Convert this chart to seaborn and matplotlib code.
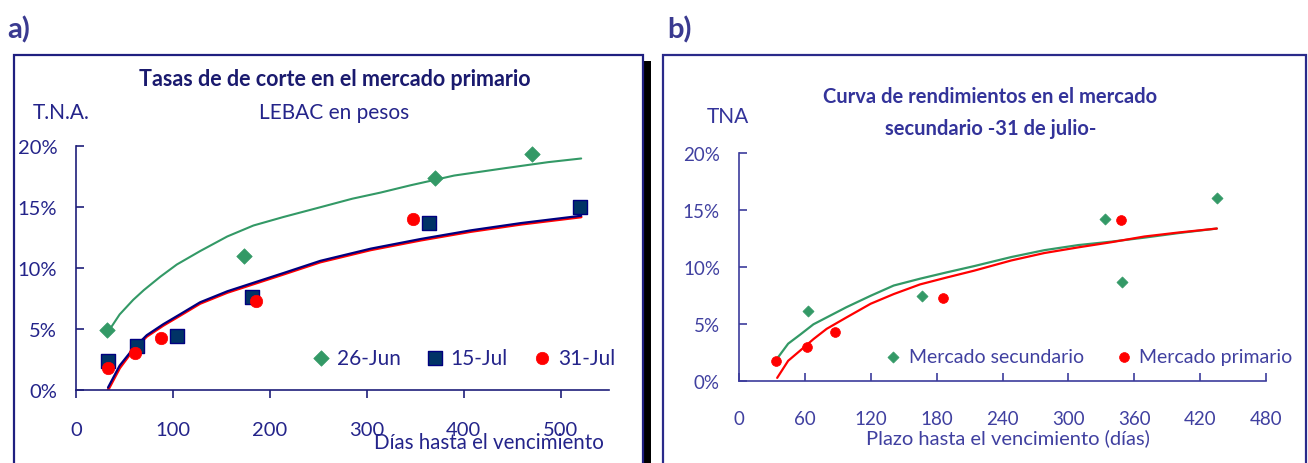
import matplotlib
matplotlib.use('Agg')
import matplotlib.pyplot as plt
import matplotlib.patches as mpatches
from matplotlib.ticker import FuncFormatter, MultipleLocator
import seaborn as sns

# ---- panel a: LEBAC en pesos, cut-off rates in the primary market ----
jun26_days = [32, 173, 370, 470]
jun26_rate = [4.9, 11.0, 17.4, 19.4]
jul15_days = [33, 63, 104, 182, 364, 520]
jul15_rate = [2.4, 3.6, 4.4, 7.6, 13.7, 15.0]
jul31_days = [33, 61, 88, 186, 348]
jul31_rate = [1.8, 3.0, 4.3, 7.3, 14.0]

# fitted curves
jun26_curve_days = [35, 45, 59, 70, 87, 104, 128, 156, 183, 214, 252, 285, 314, 345, 390, 442, 487, 521]
jun26_curve_rate = [5.0, 6.2, 7.4, 8.2, 9.3, 10.3, 11.4, 12.6, 13.5, 14.2, 15.0, 15.7, 16.2, 16.8, 17.6, 18.2, 18.7, 19.0]
jul_curve_days = [33, 45, 59, 73, 90, 107, 128, 156, 183, 214, 252, 304, 356, 407, 459, 521]
jul15_curve_rate = [0.2, 2.0, 3.4, 4.5, 5.4, 6.2, 7.2, 8.1, 8.8, 9.6, 10.6, 11.6, 12.4, 13.1, 13.7, 14.3]
jul31_curve_rate = [0.0, 1.8, 3.3, 4.4, 5.3, 6.1, 7.1, 8.0, 8.7, 9.5, 10.5, 11.5, 12.3, 13.0, 13.6, 14.2]

# ---- panel b: yield curve in the secondary market, 31 July ----
sec_days = [63, 167, 333, 349, 435]
sec_rate = [6.2, 7.45, 14.2, 8.7, 16.05]
pri_days = [34, 62, 88, 186, 348]
pri_rate = [1.8, 3.0, 4.3, 7.3, 14.15]

sec_curve_days = [35, 45, 56, 68, 86, 98, 120, 141, 165, 189, 214, 248, 278, 309, 339, 369, 400, 435]
sec_curve_rate = [2.0, 3.3, 4.1, 5.0, 5.9, 6.5, 7.5, 8.4, 9.0, 9.55, 10.1, 10.9, 11.5, 11.95, 12.25, 12.6, 13.0, 13.4]
pri_curve_days = [35, 45, 56, 68, 80, 98, 120, 141, 165, 189, 214, 248, 278, 309, 339, 369, 400, 435]
pri_curve_rate = [0.3, 1.8, 2.7, 3.7, 4.6, 5.6, 6.8, 7.65, 8.5, 9.1, 9.7, 10.6, 11.25, 11.75, 12.2, 12.7, 13.05, 13.4]

GREEN = '#339966'
NAVY = '#003366'
RED = '#ff0000'

sns.set_style('white')
plt.rcParams['font.family'] = ['Lato', 'DejaVu Sans']

W, H = 1308, 464
fig = plt.figure(figsize=(W / 100, H / 100), dpi=100)


def px(x, y):
    return x / W, 1 - y / H


pct = FuncFormatter(lambda v, p: f'{v:.0f}%')

# frames and drop shadow of panel a
fig.patches.append(mpatches.Rectangle(px(643, 470), 8 / W, (470 - 62) / H,
                                      transform=fig.transFigure, facecolor='black',
                                      edgecolor='none', zorder=-2))
fig.patches.append(mpatches.Rectangle(px(14, 470), (643 - 14) / W, (470 - 56) / H,
                                      transform=fig.transFigure, facecolor='none',
                                      edgecolor='#1f1f80', lw=1.6, zorder=-1))
fig.patches.append(mpatches.Rectangle(px(663, 470), (1306 - 663) / W, (470 - 56) / H,
                                      transform=fig.transFigure, facecolor='none',
                                      edgecolor='#2a2a8a', lw=1.6, zorder=-1))

# ---------------- panel a ----------------
ca = '#1f1f7a'
axa = fig.add_axes([76 / W, (464 - 391) / H, 533.3 / W, 243.7 / H])
axa.patch.set_alpha(0)
sns.lineplot(x=jun26_curve_days, y=jun26_curve_rate, ax=axa, color=GREEN, lw=1.5,
             sort=False, estimator=None)
sns.lineplot(x=jul_curve_days, y=jul31_curve_rate, ax=axa, color=RED, lw=2,
             sort=False, estimator=None)
sns.lineplot(x=jul_curve_days, y=jul15_curve_rate, ax=axa, color='#000080', lw=1.6,
             sort=False, estimator=None)
sns.scatterplot(x=jun26_days, y=jun26_rate, ax=axa, marker='D', s=62, color=GREEN,
                edgecolor=GREEN, linewidth=0.5, label='26-Jun', zorder=5, clip_on=False)
sns.scatterplot(x=jul15_days, y=jul15_rate, ax=axa, marker='s', s=90, color=NAVY,
                edgecolor='#000080', linewidth=1, label='15-Jul', zorder=5, clip_on=False)
sns.scatterplot(x=jul31_days, y=jul31_rate, ax=axa, marker='o', s=80, color=RED,
                edgecolor=RED, linewidth=0.5, label='31-Jul', zorder=6, clip_on=False)

axa.set_xlim(0, 550)
axa.set_ylim(0, 20)
axa.set_xticks([0, 100, 200, 300, 400, 500])
axa.yaxis.set_major_locator(MultipleLocator(5))
axa.yaxis.set_major_formatter(pct)
for s in ['top', 'right']:
    axa.spines[s].set_visible(False)
for s in ['left', 'bottom']:
    axa.spines[s].set_color(ca)
    axa.spines[s].set_linewidth(1.2)
axa.tick_params(axis='y', direction='in', length=6, width=1.2, color=ca, labelcolor='#24248a',
                labelsize=14.5, pad=13.5, left=True)
axa.tick_params(axis='x', direction='out', length=6, width=1.2, color=ca, labelcolor='#24248a',
                labelsize=14.5, pad=16, bottom=True)
axa.set_ylabel('')
axa.set_xlabel('Días hasta el vencimiento', fontsize=14.8, color='#24248a')
axa.xaxis.set_label_coords(0.774, -0.213)
axa.xaxis.label.set_va('center')
axa.legend(ncol=3, loc='center right', bbox_to_anchor=(1.011, 0.133), frameon=False,
           fontsize=15, borderpad=0, borderaxespad=0, handlelength=0.8, handletextpad=0.35,
           columnspacing=1.25, labelcolor='#24248a')

# ---------------- panel b ----------------
cb = '#3c3c9c'
axb = fig.add_axes([738.7 / W, (464 - 382.3) / H, 527.6 / W, 228 / H])
axb.patch.set_alpha(0)
sns.lineplot(x=sec_curve_days, y=sec_curve_rate, ax=axb, color=GREEN, lw=1.6,
             sort=False, estimator=None)
sns.lineplot(x=pri_curve_days, y=pri_curve_rate, ax=axb, color=RED, lw=1.6,
             sort=False, estimator=None)
sns.scatterplot(x=sec_days, y=sec_rate, ax=axb, marker='D', s=32, color=GREEN,
                edgecolor=GREEN, linewidth=0.5, label='Mercado secundario', zorder=5)
sns.scatterplot(x=pri_days, y=pri_rate, ax=axb, marker='o', s=50, color=RED,
                edgecolor=RED, linewidth=0.5, label='Mercado primario', zorder=5)

axb.set_xlim(0, 480)
axb.set_ylim(0, 20)
axb.set_xticks(range(0, 481, 60))
axb.yaxis.set_major_locator(MultipleLocator(5))
axb.yaxis.set_major_formatter(pct)
for s in ['top', 'right']:
    axb.spines[s].set_visible(False)
for s in ['left', 'bottom']:
    axb.spines[s].set_color(cb)
    axb.spines[s].set_linewidth(1.2)
axb.tick_params(axis='both', direction='in', length=6, width=1.2, color=cb,
                labelcolor='#4040a0', labelsize=13.5, left=True, bottom=True)
axb.tick_params(axis='y', pad=13.5)
axb.tick_params(axis='x', pad=21)
axb.set_ylabel('')
axb.set_xlabel('Plazo hasta el vencimiento (días)', fontsize=14.5, color='#4040a0')
axb.xaxis.set_label_coords(0.511, -0.244)
axb.xaxis.label.set_va('center')
axb.legend(ncol=2, loc='center right', bbox_to_anchor=(1.05, 0.108), frameon=False,
           fontsize=14, borderpad=0, borderaxespad=0, handlelength=0.8, handletextpad=0.4,
           columnspacing=1.65, labelcolor='#4040a0')

# ---------------- texts ----------------
fig.text(*px(7, 30), 'a)', fontsize=21, fontweight='bold', color='#3a3a90', va='center', ha='left')
fig.text(*px(667, 30), 'b)', fontsize=21, fontweight='bold', color='#3a3a90', va='center', ha='left')
fig.text(*px(335, 80), 'Tasas de de corte en el mercado primario', fontsize=15.5,
         fontweight='bold', color='#1a1a6e', va='center', ha='center')
fig.text(*px(33, 113), 'T.N.A.', fontsize=15, color='#24248a', va='center', ha='left')
fig.text(*px(334, 113), 'LEBAC en pesos', fontsize=15, color='#24248a', va='center', ha='center')
fig.text(*px(707, 117), 'TNA', fontsize=15, color='#33339a', va='center', ha='left')
fig.text(*px(990, 97), 'Curva de rendimientos en el mercado', fontsize=14.5,
         fontweight='bold', color='#33339a', va='center', ha='center')
fig.text(*px(991, 129), 'secundario -31 de julio-', fontsize=14.5,
         fontweight='bold', color='#33339a', va='center', ha='center')

fig.savefig('out.png', dpi=100)
